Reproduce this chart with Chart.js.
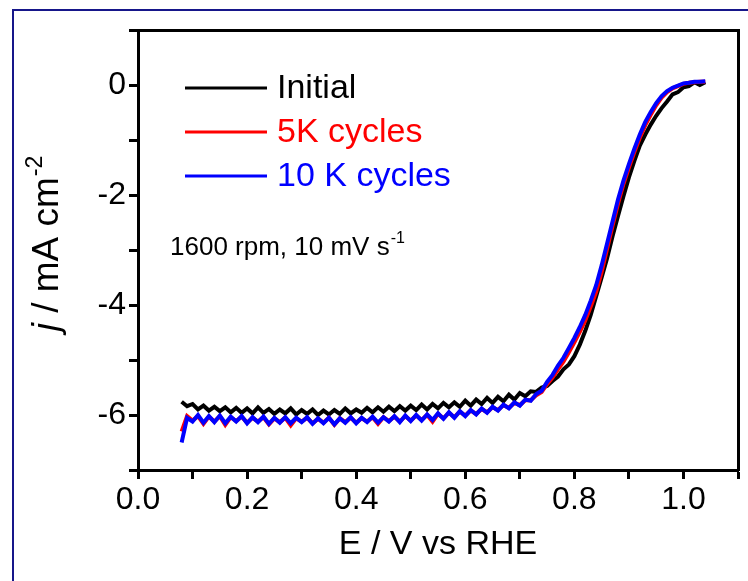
<!DOCTYPE html>
<html>
<head>
<meta charset="utf-8">
<script src="https://cdn.jsdelivr.net/npm/chart.js@4.4.1/dist/chart.umd.min.js"></script>
<style>
  html, body { margin: 0; padding: 0; background: #fff; }
  #wrap { position: relative; width: 748px; height: 581px; overflow: hidden; }
  #frame { position: absolute; left: 12px; top: 9px; width: 800px; height: 700px;
           border-left: 2px solid #16168a; border-top: 2px solid #16168a; }
  #chart { position: absolute; left: 0; top: 0; }
</style>
</head>
<body>
<div id="wrap">
  <div id="frame"></div>
  <canvas id="chart" width="748" height="581"></canvas>
</div>
<script>
// potential (V vs RHE)
const potential = [
  0.08, 0.09, 0.10, 0.11, 0.12, 0.13, 0.14, 0.15, 0.16, 0.17,
  0.18, 0.19, 0.20, 0.21, 0.22, 0.23, 0.24, 0.25, 0.26, 0.27,
  0.28, 0.29, 0.30, 0.31, 0.32, 0.33, 0.34, 0.35, 0.36, 0.37,
  0.38, 0.39, 0.40, 0.41, 0.42, 0.43, 0.44, 0.45, 0.46, 0.47,
  0.48, 0.49, 0.50, 0.51, 0.52, 0.53, 0.54, 0.55, 0.56, 0.57,
  0.58, 0.59, 0.60, 0.61, 0.62, 0.63, 0.64, 0.65, 0.66, 0.67,
  0.68, 0.69, 0.70, 0.71, 0.72, 0.73, 0.74, 0.75, 0.76, 0.77,
  0.78, 0.79, 0.80, 0.81, 0.82, 0.83, 0.84, 0.85, 0.86, 0.87,
  0.88, 0.89, 0.90, 0.91, 0.92, 0.93, 0.94, 0.95, 0.96, 0.97,
  0.98, 0.99, 1.00, 1.01, 1.02, 1.03, 1.04
];

// current density (mA cm-2)
const initial = [
  -5.76, -5.84, -5.80, -5.90, -5.83, -5.92, -5.85, -5.93, -5.86, -5.95,
  -5.87, -5.96, -5.88, -5.97, -5.86, -5.96, -5.89, -5.98, -5.90, -5.97,
  -5.88, -5.99, -5.91, -5.98, -5.90, -6.00, -5.92, -5.99, -5.91, -5.98,
  -5.88, -5.97, -5.90, -5.96, -5.87, -5.95, -5.86, -5.94, -5.85, -5.93,
  -5.84, -5.92, -5.83, -5.91, -5.81, -5.90, -5.80, -5.88, -5.78, -5.86,
  -5.77, -5.85, -5.74, -5.83, -5.72, -5.80, -5.69, -5.78, -5.67, -5.75,
  -5.63, -5.72, -5.60, -5.66, -5.57, -5.58, -5.50, -5.47, -5.38, -5.30,
  -5.17, -5.08, -4.93, -4.72, -4.47, -4.18, -3.84, -3.50, -3.15, -2.75,
  -2.38, -2.02, -1.68, -1.38, -1.10, -0.90, -0.72, -0.56, -0.42, -0.30,
  -0.17, -0.13, -0.04, -0.02, 0.05, 0.00, 0.05
];

const cycles5k = [
  -6.30, -6.02, -6.10, -6.02, -6.16, -6.03, -6.12, -6.02, -6.18, -6.04,
  -6.11, -6.03, -6.14, -6.05, -6.12, -6.04, -6.17, -6.06, -6.13, -6.05,
  -6.19, -6.06, -6.12, -6.05, -6.15, -6.07, -6.14, -6.05, -6.18, -6.06,
  -6.13, -6.05, -6.14, -6.06, -6.12, -6.04, -6.16, -6.04, -6.11, -6.03,
  -6.12, -6.02, -6.10, -6.01, -6.09, -6.00, -6.12, -5.98, -6.06, -5.96,
  -6.04, -5.94, -6.01, -5.92, -5.98, -5.89, -5.95, -5.86, -5.91, -5.82,
  -5.87, -5.78, -5.82, -5.73, -5.73, -5.64, -5.58, -5.44, -5.32, -5.17,
  -5.03, -4.86, -4.68, -4.49, -4.28, -4.03, -3.76, -3.40, -2.98, -2.56,
  -2.16, -1.80, -1.50, -1.22, -0.96, -0.73, -0.54, -0.37, -0.23, -0.13,
  -0.06, -0.02, 0.02, 0.04, 0.05, 0.06, 0.06
];

const cycles10k = [
  -6.50, -6.05, -6.12, -6.00, -6.14, -6.02, -6.13, -6.01, -6.15, -6.03,
  -6.12, -6.02, -6.15, -6.04, -6.13, -6.03, -6.16, -6.05, -6.14, -6.04,
  -6.15, -6.05, -6.13, -6.04, -6.16, -6.06, -6.15, -6.05, -6.17, -6.06,
  -6.14, -6.04, -6.15, -6.05, -6.13, -6.03, -6.14, -6.04, -6.12, -6.02,
  -6.13, -6.01, -6.11, -6.00, -6.10, -5.99, -6.09, -5.97, -6.07, -5.95,
  -6.05, -5.93, -6.02, -5.91, -5.99, -5.88, -5.96, -5.85, -5.92, -5.81,
  -5.88, -5.77, -5.83, -5.72, -5.74, -5.62, -5.56, -5.40, -5.27, -5.10,
  -4.96, -4.78, -4.60, -4.40, -4.18, -3.92, -3.64, -3.28, -2.88, -2.48,
  -2.08, -1.74, -1.44, -1.16, -0.90, -0.67, -0.49, -0.33, -0.20, -0.11,
  -0.05, -0.01, 0.03, 0.04, 0.06, 0.06, 0.07
];

const seriesNames = ['Initial', '5K cycles', '10 K cycles'];
const seriesColors = ['#000000', '#ff0000', '#0000ff'];

const FONT = '"Liberation Sans", Arial, Helvetica, sans-serif';

function toPoints(ys) {
  return potential.map((x, i) => ({ x: x, y: ys[i] }));
}

// legend drawn inside the plot, coloured text
const insideLegend = {
  id: 'insideLegend',
  afterDatasetsDraw(chart) {
    const ctx = chart.ctx;
    const area = chart.chartArea;
    ctx.save();
    ctx.font = '34px ' + FONT;
    ctx.textBaseline = 'middle';
    chart.data.datasets.forEach((ds, i) => {
      const y = area.top + 58 + i * 44;
      const x0 = area.left + 47;
      ctx.strokeStyle = ds.borderColor;
      ctx.lineWidth = 3;
      ctx.beginPath();
      ctx.moveTo(x0, y);
      ctx.lineTo(x0 + 82, y);
      ctx.stroke();
      ctx.fillStyle = ds.borderColor;
      ctx.fillText(ds.label, x0 + 92, y + 1);
    });
    ctx.restore();
  }
};

// y axis title with italic j and superscript, plus the condition note
const extraText = {
  id: 'extraText',
  afterDraw(chart) {
    const ctx = chart.ctx;
    const area = chart.chartArea;
    ctx.save();
    ctx.fillStyle = '#000';
    ctx.textBaseline = 'alphabetic';

    // y title
    const fMain = '37px ' + FONT;
    const fItal = 'italic 37px ' + FONT;
    const fSup = '23px ' + FONT;
    ctx.font = fItal; const wj = ctx.measureText('j').width;
    ctx.font = fMain; const wm = ctx.measureText(' / mA cm').width;
    ctx.font = fSup; const ws = ctx.measureText('-2').width;
    const total = wj + wm + ws;
    ctx.translate(58, (area.top + area.bottom) / 2 - 6);
    ctx.rotate(-Math.PI / 2);
    let x = -total / 2;
    ctx.font = fItal; ctx.fillText('j', x, 0); x += wj;
    ctx.font = fMain; ctx.fillText(' / mA cm', x, 0); x += wm;
    ctx.font = fSup; ctx.fillText('-2', x + 1, -16);
    ctx.setTransform(1, 0, 0, 1, 0, 0);

    // note
    const nx = area.left + 32, ny = area.top + 225;
    ctx.font = '26px ' + FONT;
    const note = '1600 rpm, 10 mV s';
    ctx.fillText(note, nx, ny);
    const wn = ctx.measureText(note).width;
    ctx.font = '16px ' + FONT;
    ctx.fillText('-1', nx + wn + 1, ny - 12);
    ctx.restore();
  }
};

new Chart(document.getElementById('chart'), {
  type: 'line',
  data: {
    datasets: [
      { label: seriesNames[0], data: toPoints(initial), borderColor: seriesColors[0], order: 3 },
      { label: seriesNames[1], data: toPoints(cycles5k), borderColor: seriesColors[1], order: 2 },
      { label: seriesNames[2], data: toPoints(cycles10k), borderColor: seriesColors[2], order: 1 }
    ]
  },
  options: {
    responsive: false,
    animation: false,
    devicePixelRatio: 1,
    layout: { padding: { left: 0, top: 30, right: 10, bottom: 0 } },
    elements: {
      line: { borderWidth: 4, tension: 0, fill: false },
      point: { radius: 0, hoverRadius: 0 }
    },
    plugins: {
      legend: { display: false },
      tooltip: { enabled: false }
    },
    scales: {
      x: {
        type: 'linear',
        position: 'bottom',
        min: 0,
        max: 1.1,
        afterFit(scale) { scale.height = 111; },
        ticks: {
          stepSize: 0.1,
          autoSkip: false,
          maxRotation: 0,
          padding: 2,
          color: '#000',
          font: { family: FONT, size: 32 },
          callback: (v) => (Math.round(v * 10) % 2 === 0 ? v.toFixed(1) : '')
        },
        grid: { drawOnChartArea: false, drawTicks: true, tickLength: 9, tickWidth: 3, tickColor: '#000' },
        border: { display: true, width: 3, color: '#000' },
        title: {
          display: true,
          text: 'E / V vs RHE',
          color: '#000',
          font: { family: FONT, size: 34 },
          padding: { top: 0, bottom: 16 }
        }
      },
      y: {
        type: 'linear',
        position: 'left',
        min: -7,
        max: 1,
        afterFit(scale) { scale.width = 138; },
        ticks: {
          stepSize: 1,
          autoSkip: false,
          padding: 3,
          color: '#000',
          font: { family: FONT, size: 32 },
          callback: (v) => (Math.round(v) % 2 === 0 ? String(Math.round(v)) : '')
        },
        grid: { drawOnChartArea: false, drawTicks: true, tickLength: 9, tickWidth: 3, tickColor: '#000' },
        border: { display: true, width: 3, color: '#000' }
      },
      x2: {
        type: 'linear',
        position: 'top',
        min: 0,
        max: 1.1,
        afterFit(scale) { scale.height = 0; },
        ticks: { display: false },
        grid: { drawOnChartArea: false, drawTicks: false },
        border: { display: true, width: 3, color: '#000' }
      },
      y2: {
        type: 'linear',
        position: 'right',
        min: -7,
        max: 1,
        afterFit(scale) { scale.width = 0; },
        ticks: { display: false },
        grid: { drawOnChartArea: false, drawTicks: false },
        border: { display: true, width: 3, color: '#000' }
      }
    }
  },
  plugins: [insideLegend, extraText]
});
</script>
</body>
</html>
